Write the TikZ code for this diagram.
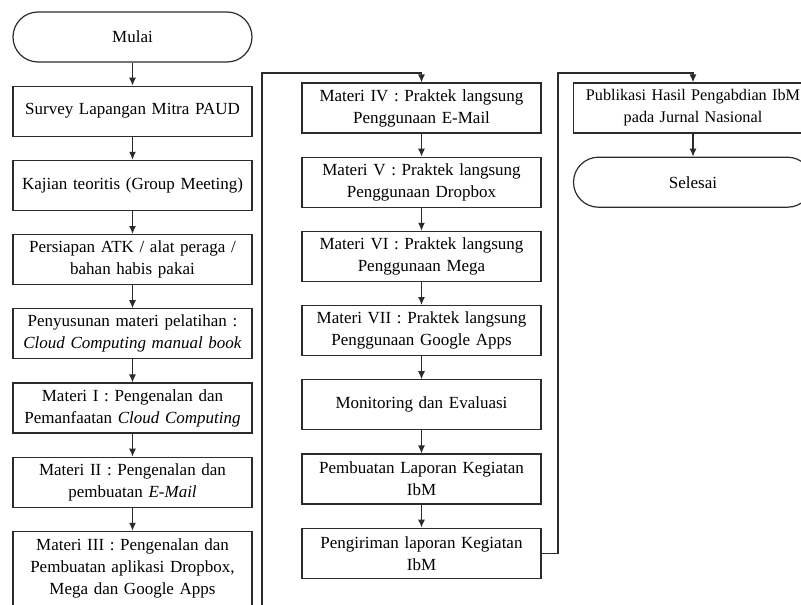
\documentclass[tikz,border=0pt]{standalone}
\usepackage{fontspec}
\setmainfont{Liberation Serif}
\usetikzlibrary{arrows.meta, positioning}
\definecolor{lineblack}{HTML}{2B2B2B}

\begin{document}
\begin{tikzpicture}[
  x=1pt, y=1pt,
  node distance=23pt,
  block/.style={rectangle, draw=lineblack, line width=1.2pt, minimum width=239pt, minimum height=50pt, text width=232pt, inner sep=0pt, align=center, font=\fontsize{17}{22}\selectfont},
  terminal/.style={block, rounded corners=25pt},
  arrow/.style={-{Latex[length=8pt, width=7pt]}, line width=1.2pt, draw=lineblack}
]
  \useasboundingbox (0,0) rectangle (801,-605);

  \node[terminal] (mulai) at (132.5,-37) {Mulai};
  \node[block, below=of mulai] (survey) {Survey Lapangan Mitra PAUD};
  \node[block, below=of survey] (kajian) {Kajian teoritis (Group Meeting)};
  \node[block, below=of kajian] (persiapan) {Persiapan ATK / alat peraga /\\ bahan habis pakai};
  \node[block, below=of persiapan] (penyusunan) {Penyusunan materi pelatihan :\\ \textit{Cloud Computing manual book}};
  \node[block, below=of penyusunan] (materiI) {Materi I : Pengenalan dan\\ Pemanfaatan \textit{Cloud Computing}};
  \node[block, below=of materiI] (materiII) {Materi II : Pengenalan dan\\ pembuatan \textit{E-Mail}};
  \node[block, below=of materiII, minimum height=74pt] (materiIII) {Materi III : Pengenalan dan\\ Pembuatan aplikasi Dropbox,\\ Mega dan Google Apps};

  \node[block] (materiIV) at (421.5,-108) {Materi IV : Praktek langsung\\ Penggunaan E-Mail};
  \node[block, below=of materiIV] (materiV) {Materi V : Praktek langsung\\ Penggunaan Dropbox};
  \node[block, below=of materiV] (materiVI) {Materi VI : Praktek langsung\\ Penggunaan Mega};
  \node[block, below=of materiVI] (materiVII) {Materi VII : Praktek langsung\\ Penggunaan Google Apps};
  \node[block, below=of materiVII] (monev) {Monitoring dan Evaluasi};
  \node[block, below=of monev] (laporan) {Pembuatan Laporan Kegiatan\\ IbM};
  \node[block, below=of laporan] (pengiriman) {Pengiriman laporan Kegiatan\\ IbM};

  \node[block, font=\fontsize{16.2}{22}\selectfont] (publikasi) at (693,-108) {Publikasi Hasil Pengabdian IbM\\ pada Jurnal Nasional};
  \node[terminal, below=of publikasi] (selesai) {Selesai};

  \coordinate (outA) at (262,-640);
  \coordinate (sideA) at (262,-73);
  \coordinate (sideB) at (558,-73);

  \draw[arrow] (mulai) -- (survey);
  \draw[arrow] (survey) -- (kajian);
  \draw[arrow] (kajian) -- (persiapan);
  \draw[arrow] (persiapan) -- (penyusunan);
  \draw[arrow] (penyusunan) -- (materiI);
  \draw[arrow] (materiI) -- (materiII);
  \draw[arrow] (materiII) -- (materiIII);
  \draw[arrow] (materiIII.south) |- (outA) -- (sideA) -| (materiIV.north);
  \draw[arrow] (materiIV) -- (materiV);
  \draw[arrow] (materiV) -- (materiVI);
  \draw[arrow] (materiVI) -- (materiVII);
  \draw[arrow] (materiVII) -- (monev);
  \draw[arrow] (monev) -- (laporan);
  \draw[arrow] (laporan) -- (pengiriman);
  \draw[arrow] (pengiriman.east) -| (sideB) -| (publikasi.north);
  \draw[arrow] (publikasi) -- (selesai);
\end{tikzpicture}
\end{document}
